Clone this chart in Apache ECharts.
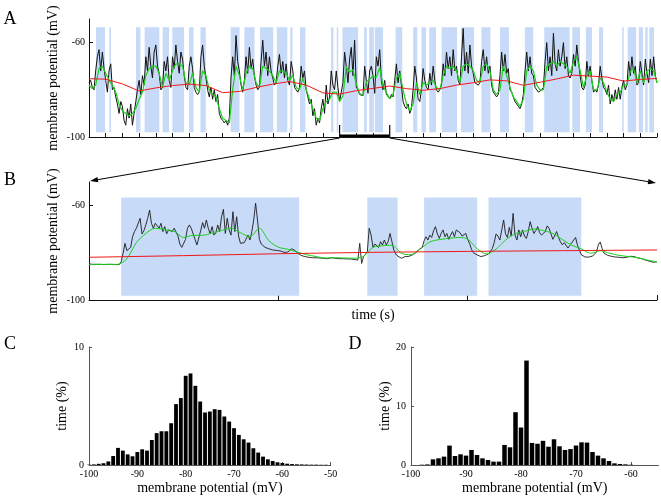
<!DOCTYPE html>
<html><head><meta charset="utf-8">
<script src="https://cdn.jsdelivr.net/npm/echarts@6/dist/echarts.min.js"></script>
<style>html,body{margin:0;padding:0;background:#fff}#c{width:661px;height:501px}</style>
</head><body><div id="c"></div>
<script>
// ---------- DATA ----------
// up-state intervals (time units of panel A ticks)
const upStates = [[0.42,0.96],[1.22,1.32],[2.81,3.08],[3.33,4.21],[4.41,4.79],[4.99,5.69],[5.99,6.26],[6.67,6.99],[8.48,9.01],[9.30,9.91],[10.24,11.03],[11.24,11.87],[12.05,12.18],[12.63,12.95],[14.49,14.63],[14.83,14.92],[15.17,16.11],[16.47,16.63],[16.77,17.05],[17.11,17.60],[18.35,18.75],[19.41,19.65],[19.90,20.17],[20.37,20.77],[21.11,22.03],[22.27,23.05],[23.49,24.03],[24.60,25.14],[26.09,26.59],[27.25,28.77],[28.93,29.39],[29.74,30.11],[30.53,30.77],[31.92,32.01],[32.25,32.75],[32.91,33.16],[33.30,33.44],[33.54,33.82]];
const aBandRange = [-98, -53.5];
const bBandRange = [-98.2, -56.6];
const zoomRange = [15, 18];

// Panel A: membrane potential (mV)
const A_BLACK_STEP = 0.1;
const aBlack = [
-77,-76,-79,-80,-72,-66,-63,-72,-64,-71,
-76,-81,-72,-69,-80,-79,-83,-86,-90,-85,
-87,-93,-95,-88,-92,-86,-95,-90,-85,-80,
-76,-82,-74,-78,-66,-72,-62,-70,-75,-64,
-61,-70,-73,-80,-79,-68,-72,-66,-76,-79,
-66,-71,-61,-68,-73,-64,-67,-74,-79,-80,
-70,-66,-71,-79,-81,-82,-81,-66,-61,-70,
-75,-80,-83,-79,-84,-80,-85,-82,-90,-92,
-93,-94,-93,-95,-92,-75,-66,-74,-57,-68,
-72,-78,-81,-76,-66,-73,-62,-71,-67,-74,
-78,-80,-79,-68,-59,-70,-64,-74,-66,-72,
-75,-78,-77,-70,-65,-73,-68,-75,-69,-76,
-78,-68,-72,-79,-80,-81,-79,-70,-75,-72,
-80,-83,-86,-84,-91,-88,-95,-92,-94,-88,
-84,-90,-78,-86,-83,-72,-78,-80,-72,-79,
-84.9,-85,-77,-64,-70,-77,-67,-62,-74,-59,
-78.8,-80,-82,-82.3,-82.5,-70,-76,-81.5,-72,-70,
-74,-81.5,-66,-70,-63,-76,-80,-76,-81.9,-82,
-83.8,-82,-83,-76,-69,-77,-72,-78,-85,-87,
-88,-86,-90,-88,-80,-70,-75,-84,-85,-80,
-71,-76,-79,-80,-73,-78,-70,-76,-80,-81,
-80,-78,-69,-74,-64,-71,-66,-74,-63,-72,
-70,-76,-78,-66,-54,-72,-64,-73,-61,-70,
-73,-77,-77,-78,-77,-68,-63,-72,-66,-73,
-70,-78,-81,-82,-83,-82,-74,-64,-72,-65,
-73,-71,-80,-81,-83,-85,-86,-87,-88,-86,
-82,-72,-64,-72,-66,-73,-74,-79,-80,-81,
-81,-80,-79,-68,-60,-72,-66,-74,-56,-69,
-72,-63,-70,-66,-60,-71,-66,-74,-75,-73,
-65,-70,-61,-68,-74,-79,-80,-78,-68,-74,
-70,-76,-81,-80,-81,-78,-70,-75,-79,-80,
-82,-78,-86,-82,-85,-80,-84,-79,-84,-79,
-76,-80,-78,-68,-74,-66,-73,-70,-78,-77,
-68,-73,-78,-67,-73,-77,-67,-74,-66,-74,
-77];
const A_GREEN_STEP = 0.2;
const aGreen = [
-78,-79.5,-78,-71,-70,-73,-76,-78,-81,-86,
-89,-90,-91,-90,-88,-84,-81,-74,-71,-70,
-70,-73,-79,-73,-76,-72,-69,-69,-70,-77,
-78,-73,-79,-81,-72,-74,-80,-82,-83,-88,
-92,-93,-94,-80,-70,-74,-80,-73,-70,-71,
-77,-79,-70,-71,-72,-74,-77,-72,-72,-73,
-76,-74,-79,-80,-75,-80,-84,-88,-92,-93,
-88,-85,-84,-81,-81,-84.9,-82.5,-70.2,-72.6,-71.5,
-77.6,-81.6,-82.3,-76.8,-75.4,-74.2,-74.6,-70.6,-78.3,-81.1,
-83.8,-82,-75,-73,-80,-86,-89,-86,-77,-82,
-77,-78,-77,-76,-79,-80,-74,-70,-71,-70,
-72,-77,-70,-69,-70,-72,-76,-77,-70,-69,
-72,-80,-82,-80,-70,-74,-79,-83,-85,-87,
-84,-72,-70,-72,-78,-80,-80,-70,-69,-68,
-70,-68,-69,-70,-73,-68,-66,-72,-79,-74,
-72,-80,-80,-75,-77,-81,-84,-85,-82,-81,
-78,-78,-72,-71,-77,-72,-77,-72,-71,-72,
-77];
const A_RED_STEP = 1;
const aRed = [-75.3,-75.5,-77.5,-80.5,-79.2,-78.2,-77.6,-78.2,-81.2,-80.7,-79.0,-77.6,-76.5,-78.0,-81.3,-81.8,-80.4,-79.4,-78.4,-79.5,-80.2,-79.5,-78.0,-77.0,-75.8,-76.2,-78.1,-76.8,-75.4,-73.8,-74.2,-74.6,-76.3,-75.6,-75.2];

// Panel B: zoom on time 15..18
const B_BLACK_STEP = 0.01;
const bBlack = [
-84.7,-84.9,-84.9,-85.0,-84.9,-84.7,-84.9,-85.0,-85.0,-84.9,
-84.9,-85.0,-84.9,-84.9,-85.0,-85.0,-85.0,-83.8,-80.2,-76.0,
-79.1,-79.5,-77.7,-73.2,-71.0,-69.6,-70.3,-65.4,-72.0,-70.6,
-68.2,-65.4,-61.9,-67.5,-69.6,-67.5,-68.2,-69.6,-67.5,-71.0,
-68.9,-72.0,-70.3,-69.6,-71.0,-69.6,-70.3,-72.9,-76.3,-77.7,
-77.7,-74.3,-69.6,-68.2,-69.6,-68.9,-74.3,-76.7,-77.1,-70.6,
-67.2,-69.6,-66.1,-69.6,-72.0,-68.9,-72.5,-71.5,-68.2,-71.0,
-64.7,-61.6,-71.8,-65.4,-70.3,-72.5,-62.6,-71.0,-64.7,-72.9,
-76.0,-76.7,-75.7,-75.3,-72.5,-74.6,-71.0,-66.1,-59.0,-66.1,
-74.3,-76.3,-77.1,-77.7,-78.0,-78.3,-78.5,-78.8,-79.1,-79.0,
-78.8,-79.2,-79.5,-79.8,-80.0,-79.7,-79.4,-78.3,-77.7,-79.1,
-80.0,-80.7,-81.1,-81.5,-81.6,-81.8,-81.9,-81.9,-82.1,-82.1,
-82.1,-82.2,-82.2,-82.3,-82.3,-82.3,-82.5,-82.5,-82.1,-82.2,
-82.3,-82.2,-82.5,-82.3,-82.5,-82.5,-82.6,-82.5,-82.6,-82.6,
-82.8,-82.8,-83.1,-76.0,-84.5,-81.6,-80.7,-79.5,-69.6,-72.5,
-77.7,-76.3,-76.0,-77.7,-75.3,-76.7,-74.6,-76.7,-75.3,-71.8,
-75.3,-78.8,-80.5,-81.4,-81.9,-82.3,-81.9,-81.6,-81.6,-81.5,
-81.2,-80.8,-80.2,-79.7,-78.8,-78.3,-77.7,-74.9,-73.2,-74.6,
-72.5,-73.5,-70.6,-68.9,-72.0,-73.9,-71.8,-70.3,-73.2,-71.8,
-74.3,-72.5,-71.0,-73.2,-70.3,-69.6,-71.5,-72.9,-73.2,-71.8,
-74.3,-76.0,-78.5,-80.0,-80.5,-80.9,-81.5,-81.6,-81.5,-81.2,
-80.9,-80.5,-79.7,-78.3,-75.7,-72.0,-72.9,-74.6,-75.3,-66.1,
-72.0,-73.5,-69.2,-72.9,-63.3,-72.5,-74.6,-70.3,-73.2,-70.3,
-72.9,-73.9,-71.0,-66.8,-69.6,-71.8,-70.6,-68.9,-71.5,-72.5,
-73.2,-71.0,-68.6,-69.6,-72.0,-74.3,-73.9,-71.0,-73.5,-75.4,
-76.6,-75.7,-76.3,-78.0,-76.8,-77.1,-74.6,-73.5,-76.8,-78.8,
-80.8,-81.5,-81.8,-81.9,-81.8,-81.6,-81.4,-80.8,-79.7,-76.7,
-75.4,-78.1,-80.2,-80.8,-81.1,-81.4,-81.5,-81.6,-81.8,-81.8,
-81.9,-81.9,-82.1,-82.1,-81.9,-81.6,-81.5,-81.4,-81.6,-81.9,
-82.2,-82.3,-82.5,-82.8,-83.1,-83.3,-83.6,-83.9,-84.0,-83.9,
-83.8];
const B_GREEN_STEP = 0.05;
const bGreen = [
-84.9,-84.9,-84.9,-84.9,-82.5,-75.7,-71.8,-69.6,-70.2,-70.9,
-73.5,-72.6,-72.6,-71.6,-70.5,-69.6,-71.5,-73.2,-69.6,-74.9,
-77.6,-78.5,-79.7,-80.8,-81.6,-82.2,-82.1,-82.2,-82.3,-81.5,
-77.7,-77.0,-76.8,-80.2,-80.8,-78.4,-75.4,-74.4,-73.9,-73.5,
-74.2,-78.3,-80.5,-78.4,-74.6,-72.0,-70.9,-69.9,-70.6,-71.8,
-74.4,-76.8,-78.3,-80.2,-79.1,-80.2,-81.1,-81.6,-82.1,-83.1,
-83.8];
const B_RED_STEP = 0.5;
const bRed = [-81.9,-81.2,-80.4,-79.8,-79.4,-79.1,-78.8];

// Panel C / D histograms: bin centres (mV, 1 mV bins) and time (%)
const cBins = [-100,-99,-98,-97,-96,-95,-94,-93,-92,-91,-90,-89,-88,-87,-86,-85,-84,-83,-82,-81,-80,-79,-78,-77,-76,-75,-74,-73,-72,-71,-70,-69,-68,-67,-66,-65,-64,-63,-62,-61,-60,-59,-58,-57,-56,-55,-54,-53,-52,-51];
const cTime = [0.03,0.05,0.1,0.15,0.3,0.76,1.45,1.22,0.9,0.74,1.1,1.33,1.22,2.12,2.7,2.86,2.86,3.54,5.16,5.67,7.56,7.76,6.71,5.38,4.45,4.53,4.73,4.67,4.11,3.68,3.12,2.55,2.18,1.9,1.42,1.05,0.71,0.48,0.34,0.23,0.17,0.11,0.08,0.06,0.05,0.04,0.03,0.03,0.02,0.02];
const dBins = [-98,-97,-96,-95,-94,-93,-92,-91,-90,-89,-88,-87,-86,-85,-84,-83,-82,-81,-80,-79,-78,-77,-76,-75,-74,-73,-72,-71,-70,-69,-68,-67,-66,-65,-64,-63,-62,-61,-60];
const dTime = [0.05,0.1,0.96,1.13,1.42,3.29,1.53,1.81,1.59,2.55,1.7,1.13,0.85,0.57,0.57,3.4,3.0,8.95,6.35,17.7,3.74,3.6,4.1,3.1,4.36,3.17,2.55,2.7,3.3,3.85,3.8,2.2,1.59,1.13,0.68,0.28,0.17,0.11,0.05];

const yTickValues = [-100, -60];
const cXTicks = [-100,-90,-80,-70,-60,-50];
const dXTicks = [-100,-90,-80,-70,-60];

// ---------- CHART ----------
const FONT = '"Liberation Serif","Times New Roman",serif';
const chart = echarts.init(document.getElementById('c'), null, {renderer:'canvas'});

function stepped(arr, step, start){ return arr.map((v,i)=>[start + i*step, v]); }

function bandRender(range){
  return function(params, api){
    const p0 = api.coord([api.value(0), range[1]]);
    const p1 = api.coord([api.value(1), range[0]]);
    return {type:'rect', shape:{x:p0[0], y:p0[1], width:p1[0]-p0[0], height:p1[1]-p0[1]}, style:{fill:'#c7daf7'}};
  };
}
function histRender(params, api){
  const c = api.value(0), v = api.value(1);
  const p0 = api.coord([c-0.5, v]);
  const p1 = api.coord([c+0.5, 0]);
  return {type:'rect', shape:{x:p0[0]+0.5, y:p0[1], width:Math.max(0.5,p1[0]-p0[0]-1), height:p1[1]-p0[1]}, style:{fill:'#000'}};
}

const axisLineDark = {show:true, lineStyle:{color:'#111', width:1}};
const axisLineGray = {show:true, lineStyle:{color:'#555', width:1}};
const lblStyle = {fontFamily:FONT, fontSize:10, color:'#000'};
const nameStyle = {fontFamily:FONT, fontSize:14, color:'#000'};

function vAxisAB(grid){
  return {type:'value', gridIndex:grid, min:-100, max:-50,
    axisLine:axisLineDark, splitLine:{show:false},
    axisTick:{show:true, inside:true, length:4, customValues:yTickValues, lineStyle:{color:'#111'}},
    axisLabel:Object.assign({margin:4, customValues:yTickValues}, lblStyle),
    name:'membrane potential (mV)', nameLocation:'middle', nameRotate:90, nameGap:29, nameMoveOverlap:false, nameTextStyle:nameStyle};
}

const bUp = upStates.filter(s => s[1] > zoomRange[0] && s[0] < zoomRange[1]);

const option = {
  animation:false,
  backgroundColor:'#fff',
  grid:[
    {left:89, top:19, width:568, height:118, outerBoundsMode:'none'},
    {left:89, top:182, width:568, height:118, outerBoundsMode:'none'},
    {left:89, top:347, width:241.7, height:118, outerBoundsMode:'none'},
    {left:411, top:347, width:247.5, height:118, outerBoundsMode:'none'}
  ],
  xAxis:[
    {type:'value', gridIndex:0, min:0, max:34, interval:1, axisLine:axisLineDark, splitLine:{show:false},
      axisTick:{show:true, inside:true, length:4, lineStyle:{color:'#111'}}, axisLabel:{show:false}},
    {type:'value', gridIndex:1, min:15, max:18, interval:1, axisLine:axisLineDark, splitLine:{show:false},
      axisTick:{show:true, inside:true, length:5, lineStyle:{color:'#111'}}, axisLabel:{show:false},
      name:'time (s)', nameLocation:'middle', nameGap:8, nameTextStyle:nameStyle},
    {type:'value', gridIndex:2, min:-100, max:-50, interval:10, axisLine:axisLineGray, splitLine:{show:false},
      axisTick:{show:true, inside:true, length:3, lineStyle:{color:'#555'}},
      axisLabel:Object.assign({margin:4}, lblStyle),
      name:'membrane potential (mV)', nameLocation:'middle', nameGap:16, nameTextStyle:nameStyle},
    {type:'value', gridIndex:3, min:-100, max:-55, interval:10, axisLine:axisLineGray, splitLine:{show:false},
      axisTick:{show:true, inside:true, length:3, customValues:dXTicks, lineStyle:{color:'#555'}},
      axisLabel:Object.assign({margin:4, customValues:dXTicks}, lblStyle),
      name:'membrane potential (mV)', nameLocation:'middle', nameGap:16, nameTextStyle:nameStyle}
  ],
  yAxis:[
    vAxisAB(0), vAxisAB(1),
    {type:'value', gridIndex:2, min:0, max:10, interval:10, axisLine:axisLineGray, splitLine:{show:false},
      axisTick:{show:true, inside:true, length:3, lineStyle:{color:'#555'}},
      axisLabel:Object.assign({margin:5}, lblStyle),
      name:'time (%)', nameLocation:'middle', nameRotate:90, nameGap:20, nameTextStyle:nameStyle},
    {type:'value', gridIndex:3, min:0, max:20, interval:10, axisLine:axisLineGray, splitLine:{show:false},
      axisTick:{show:true, inside:true, length:3, lineStyle:{color:'#555'}},
      axisLabel:Object.assign({margin:5}, lblStyle),
      name:'time (%)', nameLocation:'middle', nameRotate:90, nameGap:18, nameTextStyle:nameStyle}
  ],
  series:[
    {type:'custom', xAxisIndex:0, yAxisIndex:0, data:upStates, renderItem:bandRender(aBandRange), z:1, silent:true},
    {type:'line', xAxisIndex:0, yAxisIndex:0, data:stepped(aBlack, A_BLACK_STEP, 0), showSymbol:false, lineStyle:{color:'#111', width:1}, z:2, silent:true},
    {type:'line', xAxisIndex:0, yAxisIndex:0, data:stepped(aGreen, A_GREEN_STEP, 0), showSymbol:false, lineStyle:{color:'#19d219', width:1.2}, z:3, silent:true},
    {type:'line', xAxisIndex:0, yAxisIndex:0, data:stepped(aRed, A_RED_STEP, 0), showSymbol:false, lineStyle:{color:'#f01818', width:1}, z:4, silent:true},

    {type:'custom', xAxisIndex:1, yAxisIndex:1, data:bUp, renderItem:bandRender(bBandRange), z:1, silent:true, clip:true},
    {type:'line', xAxisIndex:1, yAxisIndex:1, data:stepped(bBlack, B_BLACK_STEP, zoomRange[0]), showSymbol:false, lineStyle:{color:'#1c1c1c', width:0.9}, z:2, silent:true},
    {type:'line', xAxisIndex:1, yAxisIndex:1, data:stepped(bGreen, B_GREEN_STEP, zoomRange[0]), showSymbol:false, smooth:0.3, lineStyle:{color:'#19d219', width:1}, z:3, silent:true},
    {type:'line', xAxisIndex:1, yAxisIndex:1, data:stepped(bRed, B_RED_STEP, zoomRange[0]), showSymbol:false, lineStyle:{color:'#f01818', width:1}, z:4, silent:true},

    {type:'custom', xAxisIndex:2, yAxisIndex:2, data:cBins.map((b,i)=>[b, cTime[i]]), renderItem:histRender, silent:true},
    {type:'custom', xAxisIndex:3, yAxisIndex:3, data:dBins.map((b,i)=>[b, dTime[i]]), renderItem:histRender, silent:true}
  ]
};
chart.setOption(option);

// ---------- annotations (positions from the axes) ----------
function px(gridIdx, pt){ return chart.convertToPixel({xAxisIndex:gridIdx, yAxisIndex:gridIdx}, pt); }
const a0 = px(0, [zoomRange[0], -100]);
const a1 = px(0, [zoomRange[1], -100]);
const b0 = px(1, [zoomRange[0], -50]);
const b1 = px(1, [zoomRange[1], -50]);

function arrow(from, to){
  const dx = to[0]-from[0], dy = to[1]-from[1];
  const L = Math.sqrt(dx*dx+dy*dy), ux = dx/L, uy = dy/L;
  const hl = 8, hw = 2.6;
  const base = [to[0]-ux*hl, to[1]-uy*hl];
  return [
    {type:'line', shape:{x1:from[0], y1:from[1], x2:base[0], y2:base[1]}, style:{stroke:'#000', lineWidth:1}, silent:true},
    {type:'polygon', shape:{points:[to, [base[0]-uy*hw, base[1]+ux*hw], [base[0]+uy*hw, base[1]-ux*hw]]}, style:{fill:'#000'}, silent:true}
  ];
}
function letter(t, x, y){
  return {type:'text', style:{text:t, x:x, y:y, font:'18px ' + FONT, fill:'#000', align:'center', verticalAlign:'middle'}, silent:true};
}
const gfx = [
  {type:'line', shape:{x1:a0[0], y1:a0[1]-1, x2:a1[0], y2:a1[1]-1}, style:{stroke:'#000', lineWidth:3}, silent:true},
  {type:'line', shape:{x1:a0[0], y1:a0[1], x2:a0[0], y2:a0[1]-12}, style:{stroke:'#000', lineWidth:1.2}, silent:true},
  {type:'line', shape:{x1:a1[0], y1:a1[1], x2:a1[0], y2:a1[1]-12}, style:{stroke:'#000', lineWidth:1.2}, silent:true},
  ...arrow([a0[0], a0[1]+1], [b0[0]+1, b0[1]-1]),
  ...arrow([a1[0], a1[1]+1], [b1[0]-1, b1[1]+1]),
  letter('A', 10, 19), letter('B', 10, 180), letter('C', 10, 344), letter('D', 355, 344)
];
chart.setOption({graphic: gfx});
</script>
</body></html>
